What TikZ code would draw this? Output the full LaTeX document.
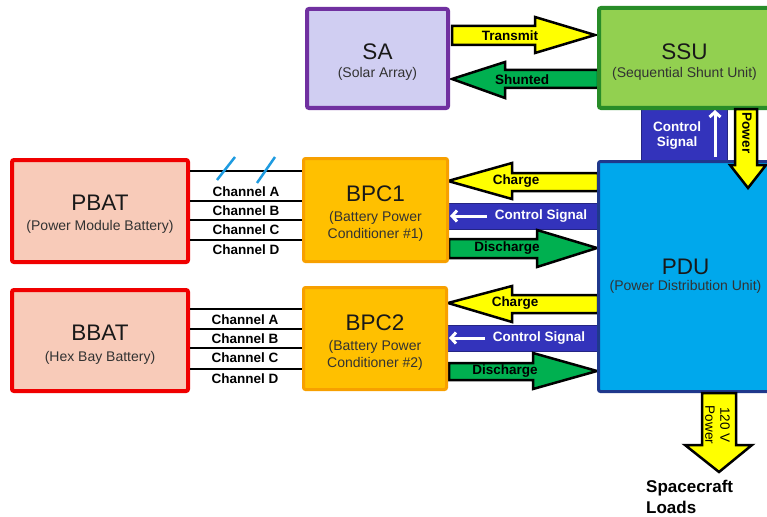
\documentclass[tikz,border=0pt]{standalone}
\usepackage{fontspec}
\setmainfont{Liberation Sans}
\usetikzlibrary{arrows.meta,calc}
\definecolor{saFill}{RGB}{208,206,242}
\definecolor{saLine}{RGB}{112,48,160}
\definecolor{ssuFill}{RGB}{146,208,80}
\definecolor{ssuLine}{RGB}{40,140,40}
\definecolor{pduFill}{RGB}{0,168,236}
\definecolor{pduLine}{RGB}{31,56,140}
\definecolor{batFill}{RGB}{248,203,185}
\definecolor{batLine}{RGB}{240,0,0}
\definecolor{bpcFill}{RGB}{255,192,0}
\definecolor{bpcLine}{RGB}{247,160,0}
\definecolor{ctrlBlue}{RGB}{51,51,187}
\definecolor{arrYellow}{RGB}{255,255,0}
\definecolor{arrGreen}{RGB}{0,176,80}
\definecolor{slashBlue}{RGB}{30,155,224}
\definecolor{subGray}{RGB}{50,50,50}
\tikzset{
  unit/.style={rectangle, rounded corners=2pt, inner sep=0pt},
  ttl/.style={inner sep=0pt, text=black!90, font=\fontsize{22.5}{25}\selectfont},
  subt/.style={inner sep=0pt, text=subGray, font=\fontsize{14}{16}\selectfont},
  blk/.style={draw=black, line width=2.5pt, line join=miter},
  lbl/.style={font=\bfseries\fontsize{13.5}{15}\selectfont, inner sep=0pt},
  wlbl/.style={lbl, text=white},
  chan/.style={line width=2.5pt, draw=black},
  ctrl/.style={fill=ctrlBlue, draw=ctrlBlue!70!black, line width=1pt},
  warrow/.style={draw=white, line width=3pt, -{Straight Barb[length=5pt,width=11pt]}},
}
\begin{document}
\begin{tikzpicture}[x=1pt,y=-1pt]
\useasboundingbox (0,0) rectangle (767,516);

% control signal bars and block arrows (behind boxes)
\draw[ctrl] (641,108) rectangle (727,162);
\draw[ctrl] (447,203) rectangle (598,229);
\draw[ctrl] (447,325) rectangle (598,351);
\draw[blk, fill=arrYellow] (598,173) -- (512,173) -- (512,163) -- (448,181) -- (512,199) -- (512,191) -- (598,191) -- cycle;
\draw[blk, fill=arrGreen] (449,239) -- (537,239) -- (537,230) -- (597,248) -- (537,267) -- (537,258) -- (449,258) -- cycle;
\draw[blk, fill=arrYellow] (598,295) -- (512,295) -- (512,286) -- (448,303) -- (512,322) -- (512,313) -- (598,313) -- cycle;
\draw[blk, fill=arrGreen] (449,363) -- (533,363) -- (533,353) -- (597,371) -- (533,389) -- (533,380) -- (449,380) -- cycle;
\draw[blk, fill=arrYellow] (452,26) -- (535,26) -- (535,17) -- (595,35) -- (535,53) -- (535,45) -- (452,45) -- cycle;
\draw[blk, fill=arrGreen] (598,70) -- (505,70) -- (505,62) -- (452,79) -- (505,98) -- (505,88) -- (598,88) -- cycle;

% boxes
\node[unit, fill=saFill, draw=saLine, line width=4pt, minimum width=141, minimum height=99] (sa) at (377.5,58.5) {};
\node[unit, fill=ssuFill, draw=ssuLine, line width=4pt, minimum width=171, minimum height=100] (ssu) at (684.5,58) {};
\node[unit, fill=pduFill, draw=pduLine, line width=3pt, minimum width=172, minimum height=230] (pdu) at (684.5,276.5) {};
\node[unit, fill=batFill, draw=batLine, line width=4pt, minimum width=176, minimum height=102] (pbat) at (100,211) {};
\node[unit, fill=batFill, draw=batLine, line width=4pt, minimum width=176, minimum height=101] (bbat) at (100,340.5) {};
\node[unit, fill=bpcFill, draw=bpcLine, line width=3pt, minimum width=144, minimum height=103] (bpc1) at (375.5,210) {};
\node[unit, fill=bpcFill, draw=bpcLine, line width=3pt, minimum width=143, minimum height=102] (bpc2) at (375,338.5) {};

% box texts
\node[ttl] (saT) at ($(sa.center)+(0,-7)$) {SA};
\node[subt] (saS) at ($(sa.center)+(0,15.5)$) {(Solar Array)};
\node[ttl] (ssuT) at ($(ssu.center)+(0,-6.5)$) {SSU};
\node[subt] (ssuS) at ($(ssu.center)+(0,16)$) {(Sequential Shunt Unit)};
\node[ttl] (pduT) at ($(pdu.center)+(1,-10)$) {PDU};
\node[subt] (pduS) at ($(pdu.center)+(1,10.5)$) {(Power Distribution Unit)};
\node[ttl] (pbatT) at ($(pbat.center)+(0,-8.5)$) {PBAT};
\node[subt] (pbatS) at ($(pbat.center)+(0,15.5)$) {(Power Module Battery)};
\node[ttl] (bbatT) at ($(bbat.center)+(0,-8)$) {BBAT};
\node[subt] (bbatS) at ($(bbat.center)+(0,17)$) {(Hex Bay Battery)};
\node[ttl] (bpc1T) at ($(bpc1.center)+(0,-16.7)$) {BPC1};
\node[subt] (bpc1S) at ($(bpc1.center)+(0,8)$) {(Battery Power};
\node[subt] (bpc1U) at ($(bpc1.center)+(0,24.5)$) {Conditioner \#1)};
\node[ttl] (bpc2T) at ($(bpc2.center)+(0,-15.5)$) {BPC2};
\node[subt] (bpc2S) at ($(bpc2.center)+(0,8.5)$) {(Battery Power};
\node[subt] (bpc2U) at ($(bpc2.center)+(0,25.5)$) {Conditioner \#2)};

% arrows over PDU
\draw[blk, fill=arrYellow] (735,109) -- (757,109) -- (757,165) -- (766,165) -- (748,188) -- (730,165) -- (735,165) -- cycle;
\draw[blk, fill=arrYellow] (702,393) -- (736,393) -- (736,445) -- (752,445) -- (719,472) -- (685,445) -- (702,445) -- cycle;

% channels
\foreach \yy in {171,201,220,240} \draw[chan] (pbat.east |- 0,\yy) -- (bpc1.west |- 0,\yy);
\foreach \yy in {309,329,348,369} \draw[chan] (bbat.east |- 0,\yy) -- (bpc2.west |- 0,\yy);
\draw[slashBlue, line width=2.5pt] (217,180) -- (235,157);
\draw[slashBlue, line width=2.5pt] (257,183) -- (275,157);
\node[lbl] (ca1) at (246,192) {Channel A};
\node[lbl] (cb1) at (246,211) {Channel B};
\node[lbl] (cc1) at (246,230) {Channel C};
\node[lbl] (cd1) at (246,250) {Channel D};
\node[lbl] (ca2) at (245,320) {Channel A};
\node[lbl] (cb2) at (245,339) {Channel B};
\node[lbl] (cc2) at (245,358) {Channel C};
\node[lbl] (cd2) at (245,379) {Channel D};

% arrow labels
\node[lbl] (tx) at (510,36) {Transmit};
\node[lbl] (sh) at (522,80) {Shunted};
\node[lbl] (ch1) at (516,181) {Charge};
\node[lbl] (dc1) at (507,248) {Discharge};
\node[lbl] (ch2) at (515,303) {Charge};
\node[lbl] (dc2) at (505,371) {Discharge};
\node[wlbl] (cs1) at (541,216) {Control Signal};
\node[wlbl] (cs2) at (539,338) {Control Signal};
\coordinate (w1s) at (487,216); \coordinate (w1e) at (450,216);
\coordinate (w2s) at (485,338); \coordinate (w2e) at (449,338);
\draw[warrow] (w1s) -- (w1e);
\draw[warrow] (w2s) -- (w2e);
\node[wlbl] (cstA) at (677,127) {Control};
\node[wlbl] (cstB) at (677,143.5) {Signal};
\coordinate (w3s) at (715,157); \coordinate (w3e) at (715,110);
\draw[warrow] (w3s) -- (w3e);
\node[lbl, rotate=-90] (pw) at (747,133) {Power};
\node[inner sep=0pt, rotate=-90, font=\fontsize{13.5}{15}\selectfont] (pw2a) at (725,425) {120 V};
\node[inner sep=0pt, rotate=-90, font=\fontsize{13.5}{15}\selectfont] (pw2b) at (710,425) {Power};
\node[anchor=west, inner sep=0pt, font=\bfseries\fontsize{17}{19.5}\selectfont] (loadsA) at (646,488) {Spacecraft};
\node[anchor=west, inner sep=0pt, font=\bfseries\fontsize{17}{19.5}\selectfont] (loadsB) at (646,507) {Loads};
\end{tikzpicture}
\end{document}
